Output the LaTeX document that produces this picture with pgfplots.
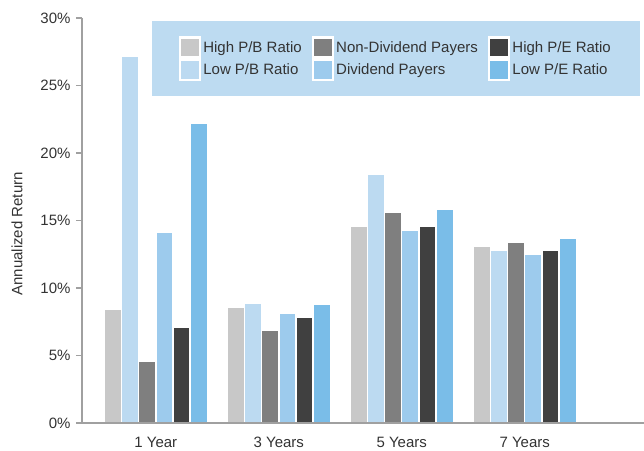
\documentclass[border=0pt]{standalone}
\usepackage{fontspec}
\setmainfont{Liberation Sans}
\usepackage{pgfplots}
\pgfplotsset{compat=1.18}

\definecolor{hpb}{HTML}{C8C8C8}
\definecolor{lpb}{HTML}{BCDAF1}
\definecolor{nondiv}{HTML}{7F7F7F}
\definecolor{div}{HTML}{9DCBED}
\definecolor{hpe}{HTML}{404040}
\definecolor{lpe}{HTML}{7ABDE8}
\definecolor{legendblue}{HTML}{BDDBF1}
\definecolor{axisgray}{HTML}{A0A0A0}
\definecolor{textgray}{HTML}{333333}

% a filled bar with a white rim, and a matching square legend swatch
\pgfplotsset{
  barstyle/.style={fill=#1, draw=white, line width=1.5bp,
    legend image code/.code={
      \draw[fill=#1, draw=white, line width=2.5bp] (0bp,-10bp) rectangle (20bp,10bp);}},
}

\begin{document}
\begin{tikzpicture}
\begin{axis}[
  scale only axis, width=562bp, height=405bp,
  xmin=-0.6, xmax=3.97, ymin=0, ymax=30,
  ybar=0pt, bar width=0.14,
  axis on top,
  axis x line=bottom, axis y line=left,
  axis line style={-, draw=axisgray, line width=1.3bp},
  xtick={0,1,2,3},
  xticklabels={1 Year, 3 Years, 5 Years, 7 Years},
  xtick style={draw=none},
  ytick={0,5,...,30},
  yticklabel={\pgfmathprintnumber{\tick}\%},
  ytick style={draw=axisgray, line width=1.3bp},
  tick align=outside, major tick length=6bp,
  /pgf/number format/assume math mode=true,
  tick label style={font=\fontsize{15bp}{18bp}\selectfont, text=textgray},
  yticklabel style={xshift=-2bp},
  xticklabel style={yshift=-5bp},
  ylabel={Annualized Return},
  ylabel style={font=\fontsize{15bp}{18bp}\selectfont, text=textgray,
    at={(axis description cs:-0.1157,0.467)}, anchor=center},
  legend columns=2, transpose legend,
  legend style={at={(axis description cs:0.9929,0.9926)}, anchor=north east,
    fill=legendblue, draw=none, inner xsep=27bp, inner ysep=15bp,
    font=\fontsize{15bp}{18bp}\selectfont, text=textgray,
    legend cell align=left, row sep=0bp,
    nodes={inner sep=2bp},
    /tikz/every even column/.append style={column sep=8bp}},
]
\coordinate (sw) at (rel axis cs:0,0);
\coordinate (ne) at (rel axis cs:1,1);
\addplot[barstyle=hpb]    coordinates {(0,8.4) (1,8.6) (2,14.6) (3,13.1)};
\addplot[barstyle=lpb]    coordinates {(0,27.2) (1,8.9) (2,18.4) (3,12.8)};
\addplot[barstyle=nondiv] coordinates {(0,4.6) (1,6.9) (2,15.6) (3,13.4)};
\addplot[barstyle=div]    coordinates {(0,14.1) (1,8.1) (2,14.3) (3,12.5)};
\addplot[barstyle=hpe]    coordinates {(0,7.1) (1,7.8) (2,14.6) (3,12.8)};
\addplot[barstyle=lpe]    coordinates {(0,22.2) (1,8.8) (2,15.8) (3,13.7)};
\legend{High P/B Ratio, Low P/B Ratio, Non-Dividend Payers, Dividend Payers, High P/E Ratio, Low P/E Ratio}
\end{axis}
\pgfresetboundingbox
\path[use as bounding box] ([xshift=-82bp,yshift=-28bp]sw) rectangle ([yshift=18bp]ne);
\end{tikzpicture}
\end{document}
